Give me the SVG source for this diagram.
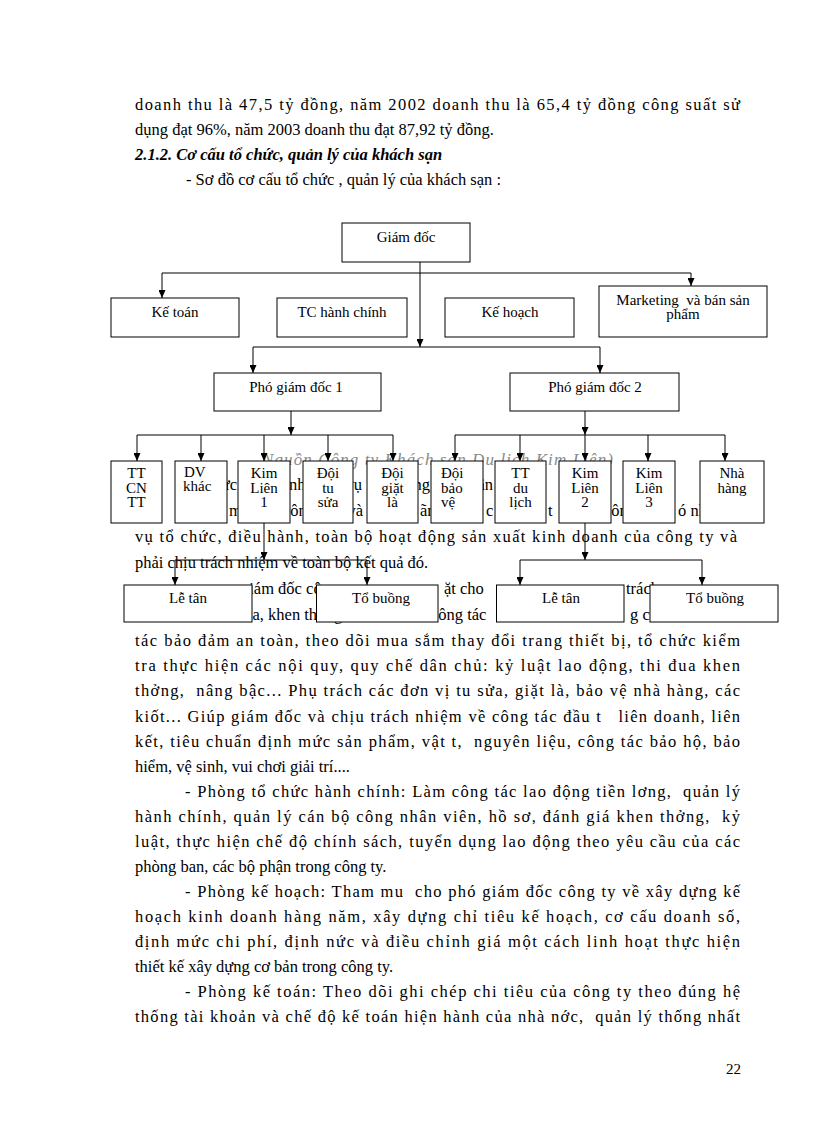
<svg xmlns="http://www.w3.org/2000/svg" width="816" height="1123" viewBox="0 0 816 1123">
<style>
.t{font-family:"Liberation Serif","Times New Roman",serif;font-size:16.5px;fill:#000;white-space:pre}
.h{font-weight:bold;font-style:italic}
.g{font-style:italic;fill:#8a8a8a;font-size:17px}
.n text{font-family:"Liberation Serif","Times New Roman",serif;font-size:15px;text-anchor:middle;fill:#000}
.n text.l{text-anchor:start}
.n rect{fill:#fff;stroke:#000;stroke-width:1}
.c line{stroke:#000;stroke-width:1;fill:none}
.c line.a{marker-end:url(#a)}
</style>
<defs>
<marker id="a" markerUnits="userSpaceOnUse" markerWidth="8" markerHeight="7" refX="8" refY="3.5" orient="auto"><path d="M0,0 L8,3.5 L0,7 z" fill="#000"/></marker>
</defs>
<rect x="0" y="0" width="816" height="1123" fill="#fff"/>
<g id="body">
<text class="t" x="135" y="110" textLength="605" lengthAdjust="spacing">doanh thu là 47,5 tỷ đồng, năm 2002 doanh thu là 65,4 tỷ đồng công suất sử</text>
<text class="t" x="135" y="135">dụng đạt 96%, năm 2003 doanh thu đạt 87,92 tỷ đồng.</text>
<text class="t h" x="135" y="160">2.1.2. Cơ cấu tổ chức, quản lý của khách sạn</text>
<text class="t" x="186" y="185">- Sơ đồ cơ cấu tổ chức , quản lý của khách sạn :</text>
<text class="t g" x="262" y="465" textLength="351" lengthAdjust="spacing">Nguồn Công ty Khách sạn Du lịch Kim Liên)</text>
<text class="t" x="237" y="490" text-anchor="end">chức</text>
<text class="t" x="289" y="490">nhiệm</text>
<text class="t" x="362" y="490" text-anchor="end">vụ</text>
<text class="t" x="430" y="490" text-anchor="end">năng</text>
<text class="t" x="493" y="490" text-anchor="end">phận</text>
<text class="t" x="229" y="516">m</text>
<text class="t" x="283" y="516">công</text>
<text class="t" x="363" y="516" text-anchor="end">và</text>
<text class="t" x="420" y="516">ãnh</text>
<text class="t" x="486" y="516">c</text>
<text class="t" x="548" y="516">t</text>
<text class="t" x="604" y="516">công</text>
<text class="t" x="678" y="516">ó nh</text>
<text class="t" x="135" y="542" textLength="602" lengthAdjust="spacing">vụ tổ chức, điều hành, toàn bộ hoạt động sản xuất kinh doanh của công ty và</text>
<text class="t" x="135" y="568">phải chịu trách nhiệm về toàn bộ kết quả đó.</text>
<text class="t" x="241" y="594">giám đốc công</text>
<text class="t" x="444" y="594">ặt cho</text>
<text class="t" x="626" y="594">trách</text>
<text class="t" x="236" y="620">đua, khen thởng</text>
<text class="t" x="431" y="620">công tác</text>
<text class="t" x="630" y="620">g cô</text>
<text class="t" x="135" y="645.5" textLength="605" lengthAdjust="spacing">tác bảo đảm an toàn, theo dõi mua sắm thay đổi trang thiết bị, tổ chức kiểm</text>
<text class="t" x="135" y="671" textLength="605" lengthAdjust="spacing">tra thực hiện các nội quy, quy chế dân chủ: kỷ luật lao động, thi đua khen</text>
<text class="t" x="135" y="696" textLength="605" lengthAdjust="spacing">thởng,  nâng bậc... Phụ trách các đơn vị tu sửa, giặt là, bảo vệ nhà hàng, các</text>
<text class="t" x="135" y="721.5" textLength="605" lengthAdjust="spacing">kiốt... Giúp giám đốc và chịu trách nhiệm về công tác đầu t   liên doanh, liên</text>
<text class="t" x="135" y="746.5" textLength="605" lengthAdjust="spacing">kết, tiêu chuẩn định mức sản phẩm, vật t,  nguyên liệu, công tác bảo hộ, bảo</text>
<text class="t" x="135" y="771.5">hiểm, vệ sinh, vui chơi giải trí....</text>
<text class="t" x="185" y="797" textLength="555" lengthAdjust="spacing">- Phòng tổ chức hành chính: Làm công tác lao động tiền lơng,  quản lý</text>
<text class="t" x="135" y="822" textLength="605" lengthAdjust="spacing">hành chính, quản lý cán bộ công nhân viên, hồ sơ, đánh giá khen thởng,  kỷ</text>
<text class="t" x="135" y="847" textLength="605" lengthAdjust="spacing">luật, thực hiện chế độ chính sách, tuyển dụng lao động theo yêu cầu của các</text>
<text class="t" x="135" y="872">phòng ban, các bộ phận trong công ty.</text>
<text class="t" x="185" y="897" textLength="555" lengthAdjust="spacing">- Phòng kế hoạch: Tham mu  cho phó giám đốc công ty về xây dựng kế</text>
<text class="t" x="135" y="922" textLength="605" lengthAdjust="spacing">hoạch kinh doanh hàng năm, xây dựng chỉ tiêu kế hoạch, cơ cấu doanh số,</text>
<text class="t" x="135" y="947" textLength="605" lengthAdjust="spacing">định mức chi phí, định nức và điều chỉnh giá một cách linh hoạt thực hiện</text>
<text class="t" x="135" y="972">thiết kế xây dựng cơ bản trong công ty.</text>
<text class="t" x="185" y="997" textLength="555" lengthAdjust="spacing">- Phòng kế toán: Theo dõi ghi chép chi tiêu của công ty theo đúng hệ</text>
<text class="t" x="135" y="1022" textLength="605" lengthAdjust="spacing">thống tài khoản và chế độ kế toán hiện hành của nhà nớc,  quản lý thống nhất</text>
<text class="t" x="726" y="1074" style="font-size:15px">22</text>
</g>
<g id="connectors" class="c">
<line class="a" x1="420" y1="262" x2="420" y2="347"/>
<line x1="162" y1="273" x2="691" y2="273"/>
<line class="a" x1="162" y1="273" x2="162" y2="298"/>
<line class="a" x1="691" y1="273" x2="691" y2="286"/>
<line x1="253" y1="347" x2="600" y2="347"/>
<line class="a" x1="253" y1="347" x2="253" y2="373"/>
<line class="a" x1="600" y1="347" x2="600" y2="373"/>
<line class="a" x1="291" y1="411" x2="291" y2="435"/>
<line x1="137" y1="435" x2="393" y2="435"/>
<line class="a" x1="137" y1="435" x2="137" y2="461"/>
<line class="a" x1="201" y1="435" x2="201" y2="461"/>
<line class="a" x1="264" y1="435" x2="264" y2="461"/>
<line class="a" x1="328" y1="435" x2="328" y2="461"/>
<line class="a" x1="393" y1="435" x2="393" y2="461"/>
<line class="a" x1="585" y1="411" x2="585" y2="435"/>
<line x1="455" y1="435" x2="725" y2="435"/>
<line class="a" x1="455" y1="435" x2="455" y2="461"/>
<line class="a" x1="520" y1="435" x2="520" y2="461"/>
<line class="a" x1="585" y1="435" x2="585" y2="461"/>
<line class="a" x1="648" y1="435" x2="648" y2="461"/>
<line class="a" x1="725" y1="435" x2="725" y2="461"/>
<line class="a" x1="264" y1="523" x2="264" y2="560"/>
<line x1="175" y1="560" x2="367" y2="560"/>
<line class="a" x1="175" y1="560" x2="175" y2="585"/>
<line class="a" x1="367" y1="560" x2="367" y2="585"/>
<line class="a" x1="585" y1="523" x2="585" y2="560"/>
<line x1="520" y1="560" x2="702" y2="560"/>
<line class="a" x1="520" y1="560" x2="520" y2="585"/>
<line class="a" x1="702" y1="560" x2="702" y2="585"/>
</g>
<g class="n">
<g id="giam-doc"><rect x="342" y="223" width="128" height="39"/><text x="406" y="242">Giám đốc</text></g>
<g id="ke-toan"><rect x="111" y="298" width="128" height="39"/><text x="175" y="317">Kế toán</text></g>
<g id="tc-hanh-chinh"><rect x="277" y="298" width="130" height="39"/><text x="342" y="317">TC hành chính</text></g>
<g id="ke-hoach"><rect x="445" y="298" width="129" height="39"/><text x="510" y="317">Kế hoạch</text></g>
<g id="marketing"><rect x="599" y="286" width="168" height="51"/><text x="683" y="305" style="white-space:pre">Marketing  và bán sản</text><text x="683" y="319">phẩm</text></g>
<g id="pho-giam-doc-1"><rect x="214" y="373" width="167" height="38"/><text x="296" y="392">Phó giám đốc 1</text></g>
<g id="pho-giam-doc-2"><rect x="510" y="373" width="169" height="38"/><text x="595" y="392">Phó giám đốc 2</text></g>
<g id="tt-cn-tt"><rect x="111" y="461" width="51" height="62"/><text x="136.5" y="478">TT</text><text x="136.5" y="492.5">CN</text><text x="136.5" y="507">TT</text></g>
<g id="dv-khac"><rect x="175" y="461" width="52" height="62"/><text class="l" x="184" y="477">DV</text><text class="l" x="183" y="491">khác</text></g>
<g id="kim-lien-1"><rect x="238" y="461" width="52" height="62"/><text x="264" y="478">Kim</text><text x="264" y="492.5">Liên</text><text x="264" y="507">1</text></g>
<g id="doi-tu-sua"><rect x="303" y="461" width="50" height="62"/><text x="328" y="478">Đội</text><text x="328" y="492.5">tu</text><text x="328" y="507">sửa</text></g>
<g id="doi-giat-la"><rect x="367" y="461" width="51" height="62"/><text x="392.5" y="478">Đội</text><text x="392.5" y="492.5">giặt</text><text x="392.5" y="507">là</text></g>
<g id="doi-bao-ve"><rect x="431" y="461" width="52" height="62"/><text class="l" x="441" y="478">Đội</text><text class="l" x="441" y="492.5">bảo</text><text class="l" x="441" y="507">vệ</text></g>
<g id="tt-du-lich"><rect x="495" y="461" width="51" height="62"/><text x="520.5" y="478">TT</text><text x="520.5" y="492.5">du</text><text x="520.5" y="507">lịch</text></g>
<g id="kim-lien-2"><rect x="559" y="461" width="52" height="62"/><text x="585" y="478">Kim</text><text x="585" y="492.5">Liên</text><text x="585" y="507">2</text></g>
<g id="kim-lien-3"><rect x="623" y="461" width="52" height="62"/><text x="649" y="478">Kim</text><text x="649" y="492.5">Liên</text><text x="649" y="507">3</text></g>
<g id="nha-hang"><rect x="700" y="461" width="64" height="62"/><text x="732" y="478">Nhà</text><text x="732" y="492.5">hàng</text></g>
<g id="le-tan-1"><rect x="124" y="585" width="128" height="37"/><text x="188" y="603">Lễ tân</text></g>
<g id="to-buong-1"><rect x="316.5" y="585" width="121.5" height="37"/><text x="381" y="603">Tổ buồng</text></g>
<g id="le-tan-2"><rect x="496.5" y="585" width="127.5" height="37"/><text x="561" y="603">Lễ tân</text></g>
<g id="to-buong-2"><rect x="650" y="585" width="128" height="37"/><text x="715" y="603">Tổ buồng</text></g>
</g>
</svg>
